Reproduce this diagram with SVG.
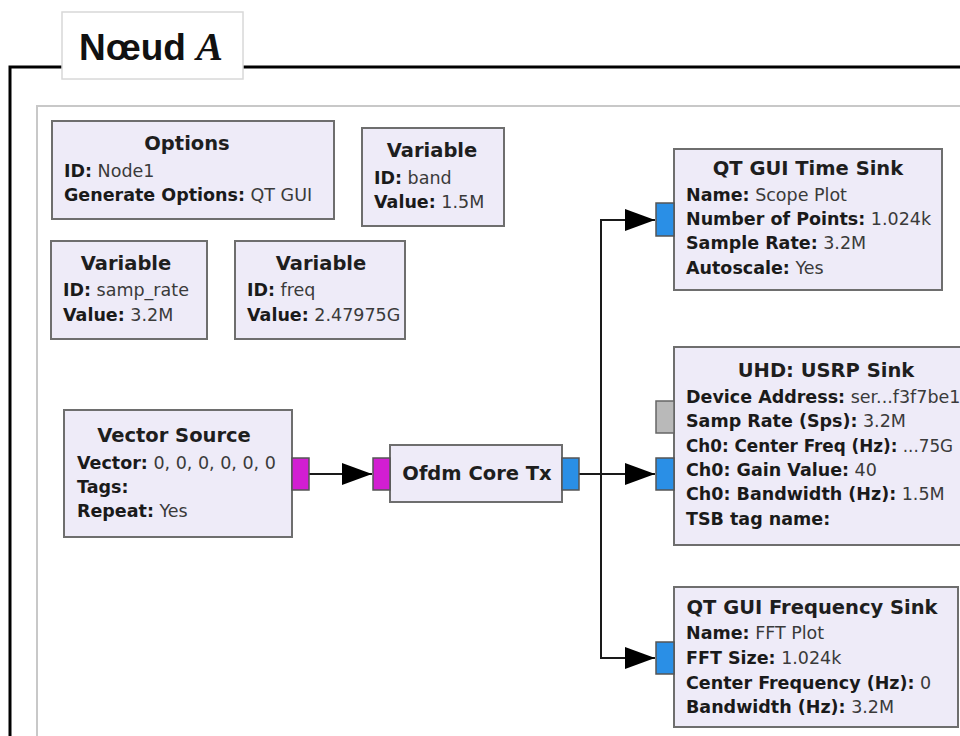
<svg xmlns="http://www.w3.org/2000/svg" width="960" height="736" viewBox="0 0 960 736">
<defs>
<style>
.node{fill:#eeebf8;stroke:#6e6e6e;stroke-width:2}
.t{font-family:"DejaVu Sans",sans-serif;font-size:17.5px;fill:#1e1e1e}
.h{font-weight:bold;text-anchor:middle;font-size:19.5px}
.b{font-weight:bold;fill:#1a1a1a}
.v{fill:#3a3a3a}
.pm{fill:#d21ed2;stroke:#555;stroke-width:1.5}
.pb{fill:#2a8fe6;stroke:#555;stroke-width:1.5}
.pg{fill:#b9b9b9;stroke:#666;stroke-width:1.5}
.w{fill:none;stroke:#1a1a1a;stroke-width:2}
</style>
<marker id="arr" viewBox="0 0 30 22" refX="30" refY="11" markerWidth="30" markerHeight="22" markerUnits="userSpaceOnUse" orient="auto">
<path d="M0,0 L30,11 L0,22 z" fill="#000"/>
</marker>
</defs>
<rect width="960" height="736" fill="#fff"/>
<g id="frame">
<path d="M62,67 H10 V736 M243,67 H960" fill="none" stroke="#000" stroke-width="3"/>
<path d="M37,736 V106 H960" fill="none" stroke="#c8c8c8" stroke-width="2"/>
</g>
<g id="title">
<rect x="62" y="12" width="181" height="67" fill="#fff" stroke="#d8d8d8" stroke-width="1.5"/>
<text x="79" y="60" font-family="'Liberation Sans',sans-serif" font-size="37" font-weight="bold" fill="#111">Nœud <tspan font-family="'Liberation Serif',serif" font-style="italic" font-size="40">A</tspan></text>
</g>
<g id="connectors">
<path class="w" d="M309,474 H372" marker-end="url(#arr)"/>
<path class="w" d="M579,474 H655" marker-end="url(#arr)"/>
<path class="w" d="M601,474 V220 H655" marker-end="url(#arr)"/>
<path class="w" d="M601,474 V658 H655" marker-end="url(#arr)"/>
</g>
<g id="options">
<rect class="node" x="52" y="121" width="282" height="98"/>
<text class="t h" x="187" y="150">Options</text>
<text class="t" x="64" y="177"><tspan class="b">ID:</tspan><tspan class="v"> Node1</tspan></text>
<text class="t" x="64" y="201"><tspan class="b">Generate Options:</tspan><tspan class="v"> QT GUI</tspan></text>
</g>
<g id="var_band">
<rect class="node" x="362" y="128" width="142" height="98"/>
<text class="t h" x="432" y="157">Variable</text>
<text class="t" x="374" y="184"><tspan class="b">ID:</tspan><tspan class="v"> band</tspan></text>
<text class="t" x="374" y="208"><tspan class="b">Value:</tspan><tspan class="v"> 1.5M</tspan></text>
</g>
<g id="var_samp_rate">
<rect class="node" x="51" y="241" width="156" height="98"/>
<text class="t h" x="126" y="270">Variable</text>
<text class="t" x="63" y="296"><tspan class="b">ID:</tspan><tspan class="v"> samp_rate</tspan></text>
<text class="t" x="63" y="321"><tspan class="b">Value:</tspan><tspan class="v"> 3.2M</tspan></text>
</g>
<g id="var_freq">
<rect class="node" x="235" y="241" width="170" height="98"/>
<text class="t h" x="321" y="270">Variable</text>
<text class="t" x="247" y="296"><tspan class="b">ID:</tspan><tspan class="v"> freq</tspan></text>
<text class="t" x="247" y="321"><tspan class="b">Value:</tspan><tspan class="v"> 2.47975G</tspan></text>
</g>
<g id="vector_source">
<rect class="node" x="64" y="410" width="228" height="127"/>
<text class="t h" x="174" y="442">Vector Source</text>
<text class="t" x="77" y="469"><tspan class="b">Vector:</tspan><tspan class="v"> 0, 0, 0, 0, 0, 0</tspan></text>
<text class="t" x="77" y="493"><tspan class="b">Tags:</tspan></text>
<text class="t" x="77" y="517"><tspan class="b">Repeat:</tspan><tspan class="v"> Yes</tspan></text>
<rect class="pm" x="292" y="458" width="17" height="32"/>
</g>
<g id="ofdm_core_tx">
<rect class="node" x="390" y="445" width="172" height="57"/>
<text class="t h" x="477" y="480">Ofdm Core Tx</text>
<rect class="pm" x="373" y="458" width="17" height="32"/>
<rect class="pb" x="562" y="458" width="17" height="32"/>
</g>
<g id="time_sink">
<rect class="node" x="674" y="149" width="268" height="141"/>
<text class="t h" x="808" y="175">QT GUI Time Sink</text>
<text class="t" x="686" y="201"><tspan class="b">Name:</tspan><tspan class="v"> Scope Plot</tspan></text>
<text class="t" x="686" y="225"><tspan class="b">Number of Points:</tspan><tspan class="v"> 1.024k</tspan></text>
<text class="t" x="686" y="249"><tspan class="b">Sample Rate:</tspan><tspan class="v"> 3.2M</tspan></text>
<text class="t" x="686" y="274"><tspan class="b">Autoscale:</tspan><tspan class="v"> Yes</tspan></text>
<rect class="pb" x="656" y="203" width="18" height="33"/>
</g>
<g id="usrp_sink">
<rect class="node" x="674" y="347" width="300" height="198"/>
<text class="t h" x="826" y="377">UHD: USRP Sink</text>
<text class="t" x="686" y="403"><tspan class="b">Device Address:</tspan><tspan class="v"> ser...f3f7be1</tspan></text>
<text class="t" x="686" y="427"><tspan class="b">Samp Rate (Sps):</tspan><tspan class="v"> 3.2M</tspan></text>
<text class="t" x="686" y="452" style="font-size:16.8px"><tspan class="b">Ch0: Center Freq (Hz):</tspan><tspan class="v"> ...75G</tspan></text>
<text class="t" x="686" y="476"><tspan class="b">Ch0: Gain Value:</tspan><tspan class="v"> 40</tspan></text>
<text class="t" x="686" y="500"><tspan class="b">Ch0: Bandwidth (Hz):</tspan><tspan class="v"> 1.5M</tspan></text>
<text class="t" x="686" y="525"><tspan class="b">TSB tag name:</tspan></text>
<rect class="pg" x="656" y="401" width="18" height="32"/>
<rect class="pb" x="656" y="458" width="18" height="32"/>
</g>
<g id="freq_sink">
<rect class="node" x="674" y="587" width="284" height="140"/>
<text class="t h" x="812" y="614">QT GUI Frequency Sink</text>
<text class="t" x="686" y="639"><tspan class="b">Name:</tspan><tspan class="v"> FFT Plot</tspan></text>
<text class="t" x="686" y="664"><tspan class="b">FFT Size:</tspan><tspan class="v"> 1.024k</tspan></text>
<text class="t" x="686" y="689"><tspan class="b">Center Frequency (Hz):</tspan><tspan class="v"> 0</tspan></text>
<text class="t" x="686" y="713"><tspan class="b">Bandwidth (Hz):</tspan><tspan class="v"> 3.2M</tspan></text>
<rect class="pb" x="656" y="642" width="18" height="32"/>
</g>
</svg>
